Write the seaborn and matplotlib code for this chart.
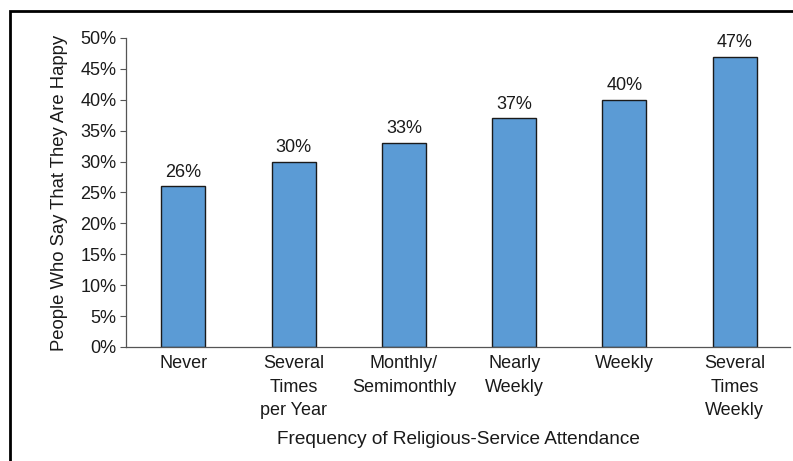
import pandas as pd
import seaborn as sns
import matplotlib.pyplot as plt
from matplotlib.patches import Rectangle

categories = ["Never", "Several\nTimes\nper Year", "Monthly/\nSemimonthly",
              "Nearly\nWeekly", "Weekly", "Several\nTimes\nWeekly"]
happy_pct = [26, 30, 33, 37, 40, 47]
y_ticks = [0, 5, 10, 15, 20, 25, 30, 35, 40, 45, 50]

df = pd.DataFrame({"attendance": categories, "happy": happy_pct})

sns.set_style("ticks")
plt.rcParams['font.family'] = ['Liberation Sans Narrow', 'Liberation Sans', 'DejaVu Sans']

fig = plt.figure(figsize=(7.93, 4.61), dpi=100)
ax = fig.add_axes([0.159, 0.2473, 0.837, 0.6703])

sns.barplot(data=df, x="attendance", y="happy", color="#5B9BD5", saturation=1,
            width=0.4, edgecolor="#1a1a1a", linewidth=1.0, ax=ax)

for i, v in enumerate(happy_pct):
    ax.annotate(f"{v}%", (i, v), xytext=(0, 4), textcoords="offset points",
                ha="center", va="bottom", fontsize=13, color="#1a1a1a")

ax.set_xlim(-0.52, 5.5)
ax.set_ylim(0, 50)
ax.set_yticks(y_ticks)
ax.set_yticklabels([f"{t}%" for t in y_ticks], fontsize=13, color="#1a1a1a")
ax.tick_params(axis="y", length=4, width=0.8, color="#555555", pad=3)
ax.tick_params(axis="x", length=0, pad=6, labelsize=13, labelcolor="#1a1a1a")
for lbl in ax.get_xticklabels():
    lbl.set_linespacing(1.5)

sns.despine(ax=ax)
ax.spines["left"].set_color("#555555")
ax.spines["bottom"].set_color("#555555")
ax.spines["left"].set_linewidth(0.9)
ax.spines["bottom"].set_linewidth(0.9)

ax.set_xlabel("Frequency of Religious-Service Attendance", fontsize=13.7, color="#1a1a1a", labelpad=8.5)
ax.set_ylabel("People Who Say That They Are Happy", fontsize=13.3, color="#1a1a1a", labelpad=9)

# outer frame (only top and left edges visible in the crop)
fig.patches.append(Rectangle((10 / 793, -0.1), 1.1, 1 - 11 / 461 + 0.1,
                             transform=fig.transFigure, fill=False,
                             edgecolor="black", linewidth=2, clip_on=False))

plt.savefig("out.png", dpi=100)
plt.close()
